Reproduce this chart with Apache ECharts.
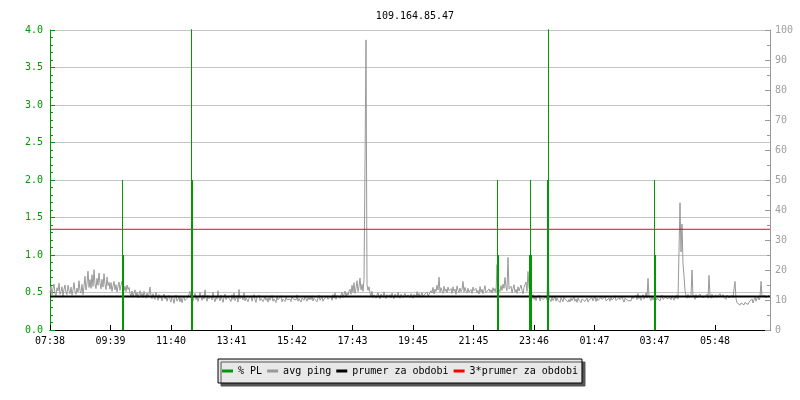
<!DOCTYPE html>
<html>
<head>
<meta charset="utf-8">
<script src="https://cdn.jsdelivr.net/npm/echarts@6/dist/echarts.min.js"></script>
<style>html,body{margin:0;padding:0;background:#fff}#c{width:800px;height:400px}</style>
</head>
<body>
<div id="c"></div>
<script>
// ---- data ----
const titleText = '109.164.85.47';
// x axis: minutes after 07:38, span 24h
const spanMinutes = 1440;
const tickMinutes = [0, 121, 242, 363, 484, 605, 726, 847, 968, 1089, 1209, 1330];
const tickLabels = ['07:38', '09:39', '11:40', '13:41', '15:42', '17:43', '19:45', '21:45', '23:46', '01:47', '03:47', '05:48'];
// avg ping (ms), one sample every 2 minutes
const pingStepMinutes = 2;
const avgPing = [
  12.4,14.6,11.7,13.9,15.3,12.2,11.5,14.1,13.0,15.6,11.9,12.8,14.4,11.3,13.6,15.0,12.5,11.8,14.9,13.2,
  12.1,14.3,11.6,13.4,15.8,12.7,11.9,14.0,12.6,16.4,13.1,12.3,15.2,11.8,14.6,17.9,13.3,15.5,19.6,14.2,
  16.8,13.9,18.4,14.5,20.1,15.3,13.8,17.2,14.9,19.0,15.6,13.7,16.9,14.3,18.8,15.1,13.5,17.6,14.8,15.9,
  13.6,15.8,12.9,14.7,16.2,13.4,15.1,12.7,14.5,16.0,13.2,14.9,16.3,15.4,13.1,14.6,12.8,15.0,13.5,14.2,
  12.1,11.2,13.0,10.9,12.4,13.4,11.0,12.6,10.7,11.9,13.1,11.4,12.2,10.8,12.9,11.6,10.6,12.3,11.1,12.0,
  14.3,11.5,10.4,12.1,11.0,10.2,12.6,11.3,9.9,11.8,10.6,11.4,9.7,10.9,12.0,10.3,11.2,9.6,10.8,11.5,
  10.1,9.3,11.2,10.4,8.9,10.7,11.6,9.6,10.2,11.0,9.4,10.8,9.1,10.5,11.3,9.8,10.0,9.2,10.9,10.3,
  12.9,10.6,11.8,9.7,10.9,12.2,10.1,11.4,9.5,10.8,12.5,11.0,9.9,11.7,10.3,13.4,10.7,9.6,11.5,10.4,
  9.8,11.3,10.0,12.6,10.5,9.4,11.1,10.2,13.1,10.8,9.7,11.6,10.3,9.2,10.9,12.0,10.1,9.6,11.4,10.6,
  10.9,9.5,11.7,10.2,12.3,9.8,10.6,11.5,9.3,13.5,10.4,9.9,11.2,10.0,12.4,9.7,10.8,11.3,9.4,10.5,
  10.4,11.4,9.6,10.7,11.8,10.1,9.2,10.9,10.3,11.6,9.8,10.5,11.1,9.5,10.2,11.3,9.9,10.6,9.3,10.8,
  9.9,10.7,11.5,9.6,10.4,10.9,9.2,11.1,10.0,9.7,10.6,11.4,9.4,10.3,10.8,9.5,11.0,10.1,9.8,10.6,
  10.3,9.5,11.2,10.4,9.8,10.9,10.0,11.7,9.6,10.5,11.1,9.3,10.7,10.2,9.9,11.3,10.4,9.6,10.8,10.1,
  10.9,10.1,11.4,9.7,10.6,11.2,10.3,9.4,10.8,11.6,9.9,10.5,11.0,9.6,10.3,10.9,9.8,11.3,10.2,10.7,
  10.4,11.2,9.9,11.8,10.6,12.4,10.2,11.5,10.9,12.1,10.5,11.7,12.6,10.8,11.4,13.0,11.1,12.3,11.6,12.9,
  13.6,11.9,14.9,12.6,15.8,12.2,13.9,16.4,12.8,14.5,17.3,13.4,15.2,12.9,16.8,55.0,96.7,15.1,13.2,14.4,
  12.4,11.3,12.9,10.8,11.7,12.2,10.6,11.6,12.5,11.1,10.4,12.0,11.4,10.9,12.7,11.2,10.5,11.8,12.3,11.0,
  11.8,10.7,12.3,11.2,10.4,12.0,11.4,10.9,12.6,11.3,10.6,11.9,12.4,10.8,11.5,12.2,11.0,10.5,11.7,12.1,
  10.8,12.1,11.5,10.6,11.9,12.4,11.0,12.8,11.3,12.2,10.9,11.6,12.5,11.1,10.7,12.0,11.4,12.7,11.2,11.8,
  11.7,13.1,12.4,14.2,12.0,13.6,12.8,14.9,13.3,17.6,12.6,14.1,13.0,12.2,14.6,12.9,13.7,12.4,14.3,13.1,
  12.6,13.8,12.2,14.4,12.9,13.6,11.9,14.7,13.2,12.5,14.0,12.8,13.5,16.2,12.7,14.2,13.0,12.3,13.9,12.6,
  12.8,13.5,12.2,14.3,13.1,12.6,13.9,12.4,13.2,12.0,14.5,12.7,13.6,12.1,13.4,14.8,12.5,13.0,12.3,13.7,
  12.7,13.4,12.3,14.1,12.9,13.8,12.5,21.8,14.0,13.6,12.8,14.8,13.2,15.3,13.9,17.5,14.2,13.1,24.2,13.7,
  13.1,14.6,12.4,13.8,15.1,12.7,13.5,12.2,14.4,13.0,12.6,15.0,13.3,12.1,14.2,13.6,16.0,12.9,19.5,14.3,
  14.2,11.3,10.5,11.8,10.2,11.0,9.8,10.9,10.4,11.6,9.7,10.8,11.4,10.1,9.5,10.7,11.2,10.0,23.2,10.6,
  10.6,9.5,10.9,9.8,10.3,11.2,9.6,10.7,9.9,10.4,9.2,10.8,10.1,9.4,11.0,10.3,9.7,10.6,9.3,10.2,
  9.4,10.6,9.8,10.2,11.0,9.6,10.3,9.2,10.7,9.9,10.5,9.1,10.4,9.8,10.9,9.5,10.1,10.7,9.3,10.0,
  10.5,9.4,10.8,9.7,10.2,11.3,9.5,10.6,9.8,10.1,9.3,10.9,10.2,9.6,10.4,11.1,9.7,10.3,9.9,10.6,
  9.6,10.9,10.0,9.4,10.7,11.4,9.8,10.3,9.5,10.8,10.1,9.7,11.0,10.4,9.3,10.6,10.0,11.2,9.8,10.4,
  10.2,9.7,11.1,10.4,9.9,10.8,11.6,10.1,12.2,10.5,11.3,9.9,10.7,11.8,10.3,11.0,12.4,10.6,17.2,11.1,
  10.5,9.8,11.3,10.0,10.7,11.5,9.9,10.6,11.2,10.3,9.7,10.9,11.6,10.2,10.8,9.6,11.1,10.4,10.9,10.1,
  10.8,10.1,11.4,10.6,9.9,11.2,10.5,11.7,10.3,10.9,42.4,26.0,35.3,22.0,18.0,13.2,11.4,10.6,11.9,10.8,
  10.4,11.5,20.0,10.9,11.6,10.2,11.8,10.7,11.3,10.1,12.0,11.1,10.5,11.7,10.8,11.4,10.3,11.9,10.6,18.2,
  11.5,10.6,11.9,10.8,11.2,10.4,11.7,10.9,11.4,10.6,12.1,11.0,10.5,11.8,10.9,11.3,10.2,11.6,11.0,10.7,
  11.0,10.2,11.5,10.8,11.3,16.2,10.4,9.1,8.6,9.4,8.3,9.0,8.7,9.5,8.4,9.2,8.8,9.6,8.5,9.3,
  9.3,9.8,10.4,9.0,10.1,10.9,9.6,10.5,11.2,10.0,10.8,16.2,11.2,10.6,11.0,11.5,10.7,11.3,10.9,11.6
];
// packet loss (%) samples: minute, value
const plMinutes = [145, 147, 283, 285, 895, 897, 959, 961, 963, 995, 997, 1209, 1211];
const plValues  = [2.0, 1.0, 6.0, 2.0, 2.0, 1.0, 1.0, 2.0, 1.0, 2.0, 6.0, 2.0, 1.0];
// period average ping (ms)
const periodAvg = 11.19;
const seriesNames = ['% PL', 'avg ping', 'prumer za obdobi', '3*prumer za obdobi'];

// ---- build ----
const pingData = avgPing.map((v, i) => [i * pingStepMinutes, v]);
const plData = [];
plMinutes.forEach((t, i) => {
  plData.push([t, 0], [t, plValues[i]], [t, 0], [t, '-']);
});
const avgData = [[0, periodAvg], [spanMinutes, periodAvg]];
const avg3Data = [[0, periodAvg * 3], [spanMinutes, periodAvg * 3]];

const font = 'DejaVu Sans Mono';
const green = '#009900';
const chart = echarts.init(document.getElementById('c'), null, {renderer: 'canvas'});
chart.setOption({
  animation: false,
  backgroundColor: '#fff',
  title: {
    text: titleText, left: 410, top: 6, textAlign: 'center',
    textStyle: {fontFamily: font, fontSize: 10, fontWeight: 'normal', color: '#000'}
  },
  grid: {left: 50, right: 30, top: 30, bottom: 70, containLabel: false},
  legend: {
    data: seriesNames, left: 'center', top: 359,
    icon: 'rect', itemWidth: 11, itemHeight: 3, itemGap: 5,
    padding: [7, 4],
    backgroundColor: '#e8e8e8', borderColor: '#000', borderWidth: 1,
    shadowColor: '#555', shadowBlur: 0, shadowOffsetX: 3, shadowOffsetY: 3,
    textStyle: {fontFamily: font, fontSize: 10, color: '#000'},
    selectedMode: false
  },
  xAxis: {
    type: 'value', min: 0, max: spanMinutes,
    axisLine: {lineStyle: {color: '#000', width: 1}},
    axisTick: {inside: true, length: 5, lineStyle: {color: '#000'}, customValues: tickMinutes},
    axisLabel: {
      customValues: tickMinutes, margin: 6, color: '#000', fontFamily: font, fontSize: 10,
      formatter: v => { const k = tickMinutes.indexOf(v); return k >= 0 ? tickLabels[k] : ''; }
    },
    splitLine: {show: false}
  },
  yAxis: [{
    type: 'value', min: 0, max: 4, interval: 0.5, position: 'left',
    axisLine: {show: true, lineStyle: {color: green}},
    axisTick: {show: true, inside: true, length: 5, lineStyle: {color: green}},
    minorTick: {show: true, splitNumber: 5, length: 3, lineStyle: {color: green}},
    axisLabel: {color: green, fontFamily: font, fontSize: 10, margin: 7, formatter: v => v.toFixed(1)},
    splitLine: {show: true, lineStyle: {color: '#c4c4c4', width: 1}}
  }, {
    type: 'value', min: 0, max: 100, interval: 10, position: 'right',
    axisLine: {show: true, lineStyle: {color: '#999'}},
    axisTick: {show: true, inside: true, length: 5, lineStyle: {color: '#999'}},
    minorTick: {show: true, splitNumber: 2, length: 3, lineStyle: {color: '#999'}},
    axisLabel: {color: '#a0a0a0', fontFamily: font, fontSize: 10, margin: 5},
    splitLine: {show: false}
  }],
  series: [{
    name: seriesNames[1], type: 'line', yAxisIndex: 1, data: pingData,
    showSymbol: false, symbol: 'none', lineStyle: {color: '#999', width: 1}, itemStyle: {color: '#999'}, z: 2
  }, {
    name: seriesNames[2], type: 'line', yAxisIndex: 1, data: avgData,
    showSymbol: false, symbol: 'none', lineStyle: {color: '#000', width: 2}, itemStyle: {color: '#000'}, z: 3
  }, {
    name: seriesNames[3], type: 'line', yAxisIndex: 1, data: avg3Data,
    showSymbol: false, symbol: 'none', lineStyle: {color: '#ff0000', width: 1}, itemStyle: {color: '#ff0000'}, z: 3
  }, {
    name: seriesNames[0], type: 'line', yAxisIndex: 0, data: plData,
    showSymbol: false, symbol: 'none', connectNulls: false, clip: true,
    lineStyle: {color: green, width: 1}, itemStyle: {color: green}, z: 4
  }]
});
</script>
</body>
</html>
